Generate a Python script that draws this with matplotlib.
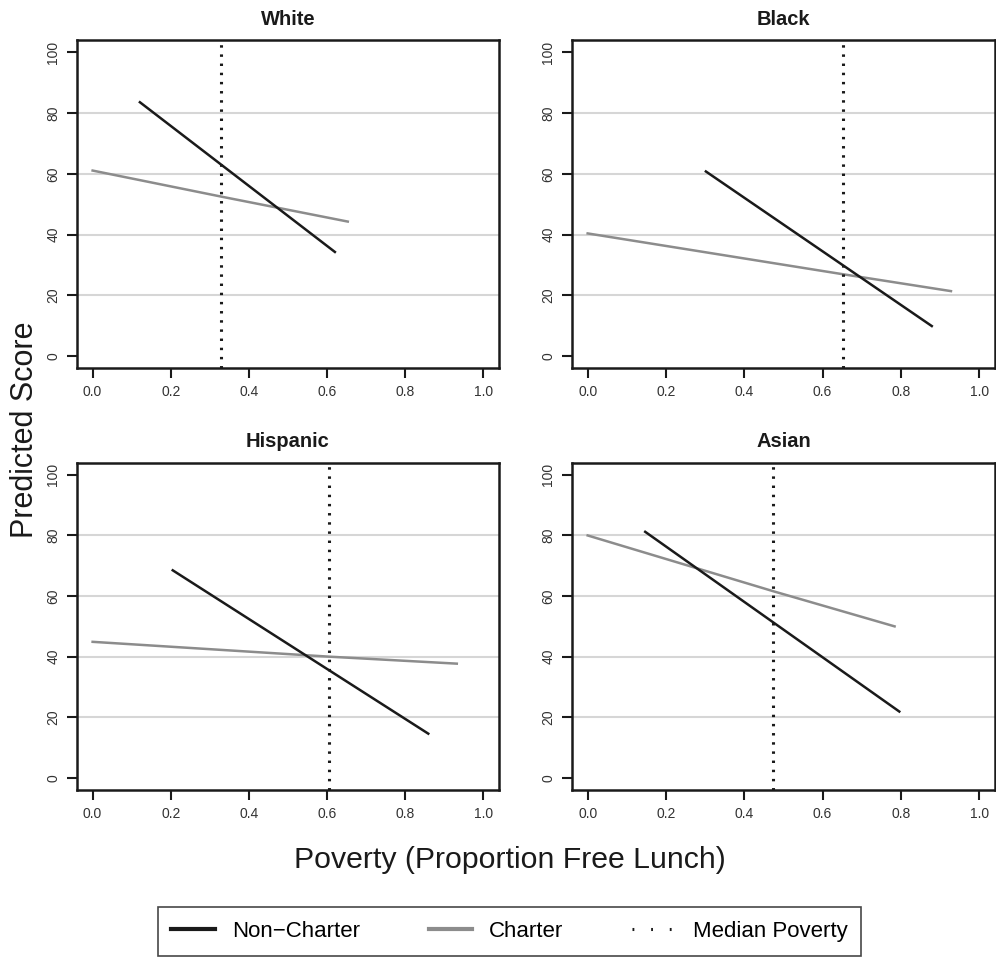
import matplotlib
matplotlib.use("Agg")
import matplotlib.pyplot as plt
from matplotlib.lines import Line2D

plt.rcParams['font.family'] = ['Liberation Sans', 'DejaVu Sans']

# values
groups = ["White", "Black", "Hispanic", "Asian"]

noncharter_x = [[0.121, 0.620], [0.302, 0.879], [0.205, 0.859], [0.147, 0.796]]
noncharter_y = [[83.6, 34.3], [60.8, 9.9], [68.5, 14.6], [81.2, 21.9]]

charter_x = [[0.0, 0.33, 0.653], [0.0, 0.65, 0.928], [0.0, 0.606, 0.932], [0.0, 0.474, 0.784]]
charter_y = [[61.1, 52.5, 44.3], [40.4, 27.0, 21.4], [44.9, 40.0, 37.7], [80.0, 61.6, 50.0]]

median_poverty = [0.328, 0.652, 0.606, 0.474]

y_ticks = [0, 20, 40, 60, 80, 100]
grid_levels = [20, 40, 60, 80]
x_ticks = [0.0, 0.2, 0.4, 0.6, 0.8, 1.0]

fig = plt.figure(figsize=(9.96, 9.59), dpi=100)

# axes boxes [left, bottom, width, height] in figure fractions
boxes = [
    [0.0773, 0.616, 0.4237, 0.342],
    [0.5743, 0.616, 0.4245, 0.342],
    [0.0773, 0.1762, 0.4237, 0.3413],
    [0.5743, 0.1762, 0.4245, 0.3413],
]

dark = "#1a1a1a"
grey = "#8c8c8c"

for i, name in enumerate(groups):
    ax = fig.add_axes(boxes[i])
    for g in grid_levels:
        ax.axhline(g, color="#d6d6d6", lw=1.5, zorder=0)
    ax.plot(charter_x[i], charter_y[i], color=grey, lw=1.8, zorder=2)
    ax.plot(noncharter_x[i], noncharter_y[i], color=dark, lw=1.8, zorder=3)
    ax.axvline(median_poverty[i], color=dark, lw=2.2, linestyle=(0, (0.8, 2.2)), zorder=4)

    ax.set_xlim(-0.04, 1.04)
    ax.set_ylim(-4, 104)
    ax.set_xticks(x_ticks)
    ax.set_xticklabels(["%.1f" % v for v in x_ticks])
    ax.set_yticks(y_ticks)
    ax.set_yticklabels([str(v) for v in y_ticks], rotation=90, va="center")
    ax.tick_params(direction="out", length=7, width=1.5, labelsize=10,
                   colors=dark, labelcolor="#333333", pad=5)
    for sp in ax.spines.values():
        sp.set_linewidth(1.8)
        sp.set_color(dark)
    ax.set_title(name, fontsize=14.5, fontweight="bold", color=dark, pad=11)

fig.text(0.025, 0.5516, "Predicted Score", rotation=90, ha="center", va="center",
         fontsize=22, color=dark)
fig.text(0.5115, 0.103, "Poverty (Proportion Free Lunch)", ha="center", va="center",
         fontsize=21.8, color=dark)

handles = [
    Line2D([], [], color=dark, lw=3),
    Line2D([], [], color=grey, lw=3),
    Line2D([], [], color=dark, lw=2.2, linestyle=(0, (0.6, 5.5))),
]
labels = ["Non\u2212Charter", "Charter", "Median Poverty"]
leg = fig.legend(handles, labels, loc="center", bbox_to_anchor=(0.5115, 0.0287),
                 ncol=3, fontsize=16, frameon=True, fancybox=False,
                 edgecolor=dark, handlelength=1.95, handletextpad=0.77,
                 columnspacing=3.1, borderpad=0.62)
leg.get_frame().set_linewidth(1.2)

fig.savefig("out.png", dpi=100, facecolor="white")
